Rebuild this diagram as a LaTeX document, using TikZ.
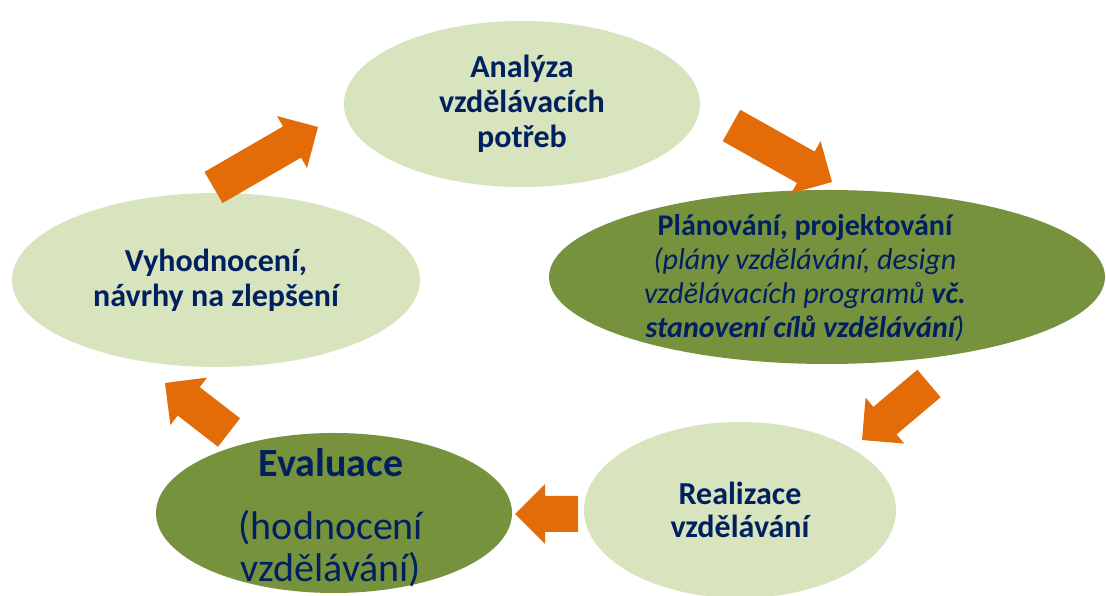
\documentclass[tikz,border=0pt]{standalone}
\usepackage{fontspec}
\setmainfont{Carlito}
\usetikzlibrary{shapes.geometric,calc}

\definecolor{lightolive}{HTML}{D7E4BD}
\definecolor{darkolive}{HTML}{76923C}
\definecolor{navytext}{HTML}{002060}
\definecolor{arroworange}{HTML}{E36C09}

% Block arrow from a tail centre (#1) to a tip (#2)
\newcommand\cyclearrow[2]{%
  \coordinate (#1-neck) at ($(#2)!30pt!(#1)$);
  \fill[cyclearrowfill]
    ($(#1)!18pt!90:(#2)$) -- ($(#1-neck)!18pt!90:(#2)$) --
    ($(#1-neck)!30pt!90:(#2)$) -- (#2) --
    ($(#1-neck)!30pt!-90:(#2)$) -- ($(#1-neck)!18pt!-90:(#2)$) --
    ($(#1)!18pt!-90:(#2)$) -- cycle;
}

\tikzset{
  phase/.style={ellipse, inner sep=0pt, text=navytext, align=center,
    font=\fontsize{32}{35}\selectfont\bfseries},
  lightphase/.style={phase, fill=lightolive},
  darkphase/.style={phase, fill=darkolive},
  phasetext/.style={inner sep=0pt, text=navytext, align=center},
  cyclearrowfill/.style={fill=arroworange},
}

\begin{document}
\begin{tikzpicture}[x=1pt, y=1pt]
  \useasboundingbox (0,0) rectangle (1106,596);
  \clip (0,0) rectangle (1106,596);
  \fill[white] (0,0) rectangle (1106,596);

  % phases of the cycle
  \node[lightphase, minimum width=356pt, minimum height=166pt] (analyza) at (522,492)
    {Analýza\\vzdělávacích\\potřeb};
  \node[darkphase, minimum width=556pt, minimum height=174pt] (planovani) at (827,319) {};
  \node[phasetext, font=\fontsize{30}{34}\selectfont\bfseries] (planovanitext) at (805,318)
    {Plánování, projektování\\
     {\mdseries\itshape (plány vzdělávání, design}\\
     {\mdseries\itshape vzdělávacích programů {\bfseries vč.}}\\
     {\itshape stanovení cílů vzdělávání{\mdseries)}}};
  \node[lightphase, minimum width=312pt, minimum height=176pt,
        font=\fontsize{32}{33}\selectfont\bfseries] (realizace) at (740,86)
    {Realizace\\vzdělávání};
  \node[darkphase, minimum width=356pt, minimum height=160pt] (evaluace) at (334,83) {};
  \node[phasetext, font=\fontsize{40}{42}\selectfont] (evaluacetext) at (331,78)
    {\textbf{Evaluace}\\[21pt](hodnocení\\vzdělávání)};
  \node[lightphase, minimum width=408pt, minimum height=174pt] (vyhodnoceni) at (216,316)
    {Vyhodnocení,\\návrhy na zlepšení};

  % arrows between the phases
  \coordinate (a1t) at (213.5,408.5); \coordinate (a1h) at (318,469);
  \coordinate (a2t) at (731.5,470.5); \coordinate (a2h) at (832,414);
  \coordinate (a3t) at (929,212.5);   \coordinate (a3h) at (862,156);
  \coordinate (a4t) at (578,82);      \coordinate (a4h) at (515,82);
  \coordinate (a5t) at (229,163.5);   \coordinate (a5h) at (165,213);
  \cyclearrow{a1t}{a1h}
  \cyclearrow{a2t}{a2h}
  \cyclearrow{a3t}{a3h}
  \cyclearrow{a4t}{a4h}
  \cyclearrow{a5t}{a5h}
\end{tikzpicture}
\end{document}
